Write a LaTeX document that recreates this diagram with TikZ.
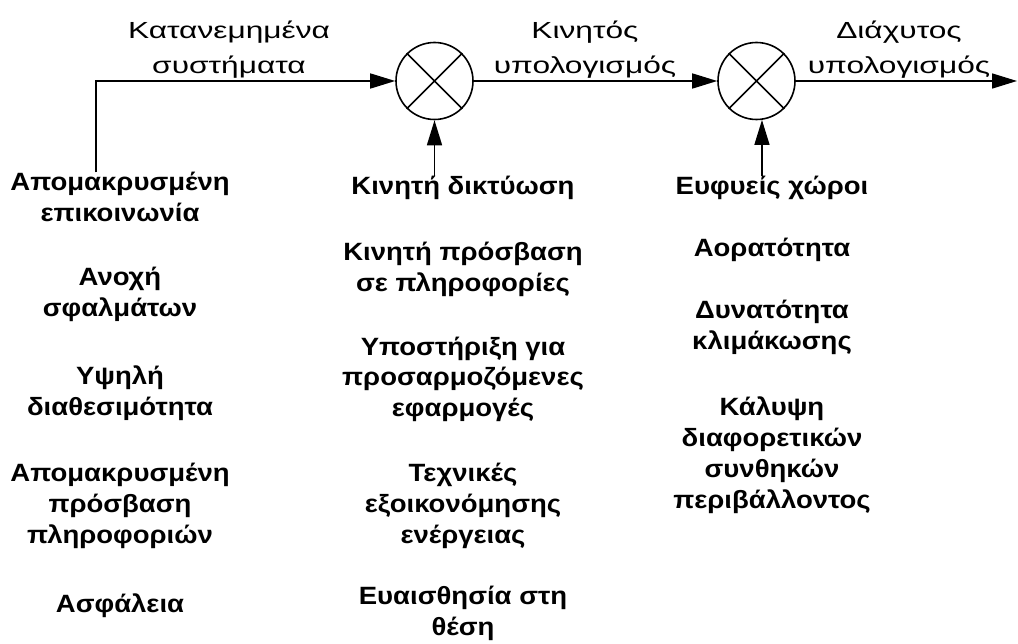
\documentclass[tikz,border=0pt]{standalone}
\usepackage{fontspec}
\setmainfont{Liberation Sans}
\newfontfamily\labf[FakeStretch=1.36]{Liberation Sans}
\newfontfamily\itemf[FakeStretch=1.1]{Liberation Sans}
\usetikzlibrary{arrows.meta}
\begin{document}
\begin{tikzpicture}[x=1pt,y=-1pt,
  line/.style={line width=1.6pt},
  arr/.style={line width=1.6pt,-{Triangle[length=25pt,width=15pt]}},
  mult/.style={circle,draw,line width=1.6pt,minimum size=77pt,inner sep=0pt},
  toplab/.style={align=center,inner sep=0pt,anchor=base,font=\labf\fontsize{23.3}{35}\selectfont},
  item/.style={align=center,inner sep=0pt,anchor=base,font=\itemf\bfseries\fontsize{25}{31}\selectfont}]
\useasboundingbox (0,0) rectangle (1018,644);

\node[mult] (c1) at (434.5,81) {};
\node[mult] (c2) at (756.5,81) {};
\draw[line] (c1.45) -- (c1.225) (c1.135) -- (c1.315);
\draw[line] (c2.45) -- (c2.225) (c2.135) -- (c2.315);

% anchor=base is the baseline of the last line
\node[toplab] (t1) at (229,73.5) {Κατανεμημένα\\συστήματα};
\node[toplab] (t2) at (585,73.5) {Κινητός\\υπολογισμός};
\node[toplab] (t3) at (899,73.5) {Διάχυτος\\υπολογισμός};

\node[item] (L1) at (120,222) {Απομακρυσμένη\\επικοινωνία};
\node[item] (L2) at (120,317) {Ανοχή\\σφαλμάτων};
\node[item] (L3) at (120,415) {Υψηλή\\διαθεσιμότητα};
\node[item] (L4) at (120,543) {Απομακρυσμένη\\πρόσβαση\\πληροφοριών};
\node[item] (L5) at (120,612) {Ασφάλεια};

\node[item] (M1) at (463,195) {Κινητή δικτύωση};
\node[item] (M2) at (463,292) {Κινητή πρόσβαση\\σε πληροφορίες};
\node[item] (M3) at (463,417) {Υποστήριξη για\\προσαρμοζόμενες\\εφαρμογές};
\node[item] (M4) at (463,543) {Τεχνικές\\εξοικονόμησης\\ενέργειας};
\node[item] (M5) at (463,635) {Ευαισθησία στη\\θέση};

\node[item] (R1) at (772,195) {Ευφυείς χώροι};
\node[item] (R2) at (772,257) {Αορατότητα};
\node[item] (R3) at (772,350) {Δυνατότητα\\κλιμάκωσης};
\node[item] (R4) at (772,508) {Κάλυψη\\διαφορετικών\\συνθηκών\\περιβάλλοντος};

\coordinate (k) at (96,81);
\coordinate (e) at (1017,81);
\draw[arr] (k |- L1.north) -- (k) -- (c1.west);
\draw[arr] (c1.east) -- (c2.west);
\draw[arr] (c2.east) -- (e);
\draw[arr] (c1.south |- M1.north) -- (c1.south);
\draw[arr] (c2.278 |- R1.north) -- (c2.278);
\end{tikzpicture}
\end{document}
